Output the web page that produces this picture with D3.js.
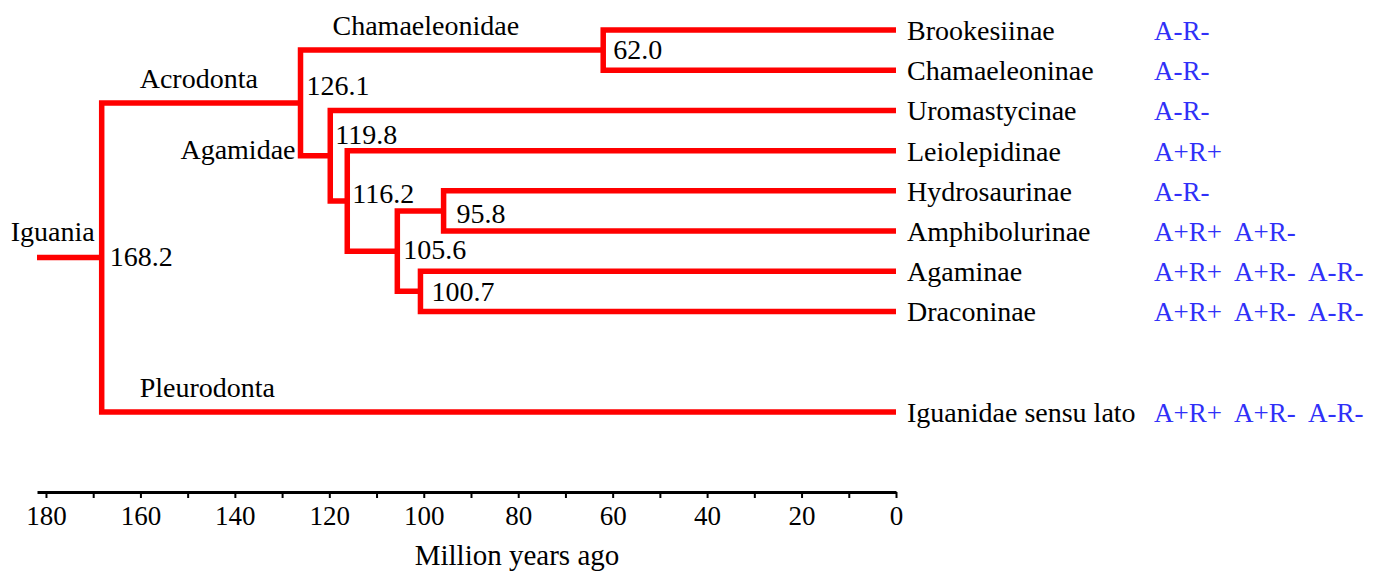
<!DOCTYPE html>
<html>
<head>
<meta charset="utf-8">
<script src="https://cdn.jsdelivr.net/npm/d3@7/dist/d3.min.js"></script>
<style>
  html, body { margin: 0; padding: 0; background: #fff; }
  svg { display: block; }
</style>
</head>
<body>
<svg id="chart" width="1381" height="574"></svg>
<script>
// ---------------- DATA ----------------
const tipNames = ["Brookesiinae", "Chamaeleoninae", "Uromastycinae", "Leiolepidinae",
  "Hydrosaurinae", "Amphibolurinae", "Agaminae", "Draconinae", "Iguanidae sensu lato"];
const tipRows = [0, 1, 2, 3, 4, 5, 6, 7, 9.5];
const tipCodes = [
  ["A-R-"], ["A-R-"], ["A-R-"], ["A+R+"], ["A-R-"],
  ["A+R+", "A+R-"],
  ["A+R+", "A+R-", "A-R-"],
  ["A+R+", "A+R-", "A-R-"],
  ["A+R+", "A+R-", "A-R-"]
];

const nodeIds = ["Iguania", "Acrodonta", "Chamaeleonidae", "Agamidae", "n116", "n105", "n95", "n100"];
const nodeAges = [168.2, 126.1, 62.0, 119.8, 116.2, 105.6, 95.8, 100.7];
const nodeChildren = [
  ["Acrodonta", "Iguanidae sensu lato"],
  ["Chamaeleonidae", "Agamidae"],
  ["Brookesiinae", "Chamaeleoninae"],
  ["Uromastycinae", "n116"],
  ["Leiolepidinae", "n105"],
  ["n95", "n100"],
  ["Hydrosaurinae", "Amphibolurinae"],
  ["Agaminae", "Draconinae"]
];
const stemAge = 181.9;

// clade names drawn on branches
const cladeBranch = ["Acrodonta", "Chamaeleonidae", "Agamidae", "Iguanidae sensu lato", "Iguania"];
const cladeLabel = ["Acrodonta", "Chamaeleonidae", "Agamidae", "Pleurodonta", "Iguania"];

const axisTicks = d3.range(0, 181, 10);
const axisTitle = "Million years ago";

// ---------------- LAYOUT / STYLE ----------------
const RED = "#ff0000";
const BLUE = "#3030f8";
const W = 5.5;
const FONT = "Liberation Serif";
const FS = 28;

const svg = d3.select("#chart");
const x = d3.scaleLinear().domain([stemAge, 0]).range([37, 896]);
const y = d3.scaleLinear().domain([0, 9.5]).range([30, 412]);

// build tree
const byId = {};
tipNames.forEach((n, i) => byId[n] = { id: n, age: 0, row: tipRows[i], codes: tipCodes[i] });
nodeIds.forEach((n, i) => byId[n] = { id: n, age: nodeAges[i], kids: nodeChildren[i] });
function build(id) {
  const n = byId[id];
  return n.kids ? { ...n, children: n.kids.map(build) } : { ...n };
}
const root = d3.hierarchy(build("Iguania"));
root.eachAfter(d => {
  d.px = x(d.data.age);
  d.py = d.children ? (d.children[0].py + d.children[d.children.length - 1].py) / 2 : y(d.data.row);
});
const nodeMap = {};
root.each(d => nodeMap[d.data.id] = d);

const g = svg.append("g");

function txt(sel) {
  return sel.style("font-family", FONT).attr("font-size", FS).attr("fill", "#000");
}

// root stem
g.append("path")
  .attr("d", `M${x(stemAge)},${root.py}H${root.px}`)
  .attr("stroke", RED).attr("stroke-width", W).attr("fill", "none");

// brackets
g.selectAll("path.br")
  .data(root.descendants().filter(d => d.children))
  .join("path")
  .attr("class", "br")
  .attr("d", d => {
    const a = d.children[0], b = d.children[d.children.length - 1];
    return `M${a.px},${a.py}H${d.px}V${b.py}H${b.px}`;
  })
  .attr("stroke", RED).attr("stroke-width", W).attr("fill", "none")
  .attr("stroke-linejoin", "miter");

// node age labels (offsets chosen to avoid overlapping branches)
const ageDx = { "Iguania": 8, "Acrodonta": 6, "Chamaeleonidae": 10, "Agamidae": 5,
  "n116": 5, "n105": 6, "n95": 13, "n100": 11 };
const ageDy = { "Iguania": 9, "Acrodonta": -8, "Chamaeleonidae": 9, "Agamidae": -12,
  "n116": 2, "n105": 8, "n95": 12, "n100": 10 };
txt(g.selectAll("text.age")
  .data(root.descendants().filter(d => d.children))
  .join("text")
  .attr("class", "age")
  .attr("x", d => d.px + ageDx[d.data.id])
  .attr("y", d => d.py + ageDy[d.data.id]))
  .text(d => d.data.age.toFixed(1));

// clade labels
cladeBranch.forEach((id, i) => {
  const d = nodeMap[id];
  const t = txt(g.append("text")).text(cladeLabel[i]);
  if (id === "Iguania") {
    t.attr("x", d.px - 7).attr("y", d.py - 16).attr("text-anchor", "end");
  } else if (id === "Agamidae") {
    t.attr("x", d.parent.px - 5).attr("y", d.py + 3).attr("text-anchor", "end");
  } else {
    t.attr("x", d.parent.px + 30 + (id === "Chamaeleonidae" ? 2 : 8)).attr("y", d.py - 15);
  }
});

// tip labels
const tips = root.leaves();
txt(g.selectAll("text.tip")
  .data(tips)
  .join("text")
  .attr("class", "tip")
  .attr("x", d => d.px + 11)
  .attr("y", d => d.py + 10))
  .text(d => d.data.id);

// state codes
const codeX = [1154, 1234, 1308];
tips.forEach(d => {
  d.data.codes.forEach((c, j) => {
    g.append("text")
      .style("font-family", FONT)
      .attr("x", codeX[j])
      .attr("y", d.py + 10)
      .attr("font-size", 27)
      .attr("fill", BLUE)
      .text(c);
  });
});

// axis
const axis = d3.axisBottom(x)
  .tickValues(axisTicks)
  .tickFormat(d => d % 20 === 0 ? d : "")
  .tickSize(6)
  .tickSizeOuter(0)
  .tickPadding(8);
const ax = svg.append("g").attr("transform", "translate(0,492)").call(axis);
ax.select(".domain").attr("stroke", "#000").attr("stroke-width", 3);
ax.selectAll(".tick line").attr("stroke", "#000").attr("stroke-width", 2);
ax.selectAll(".tick text")
  .style("font-family", FONT)
  .attr("font-size", 27).attr("fill", "#000");

txt(svg.append("text"))
  .attr("x", 517).attr("y", 565)
  .attr("text-anchor", "middle")
  .attr("font-size", 29)
  .text(axisTitle);
</script>
</body>
</html>
